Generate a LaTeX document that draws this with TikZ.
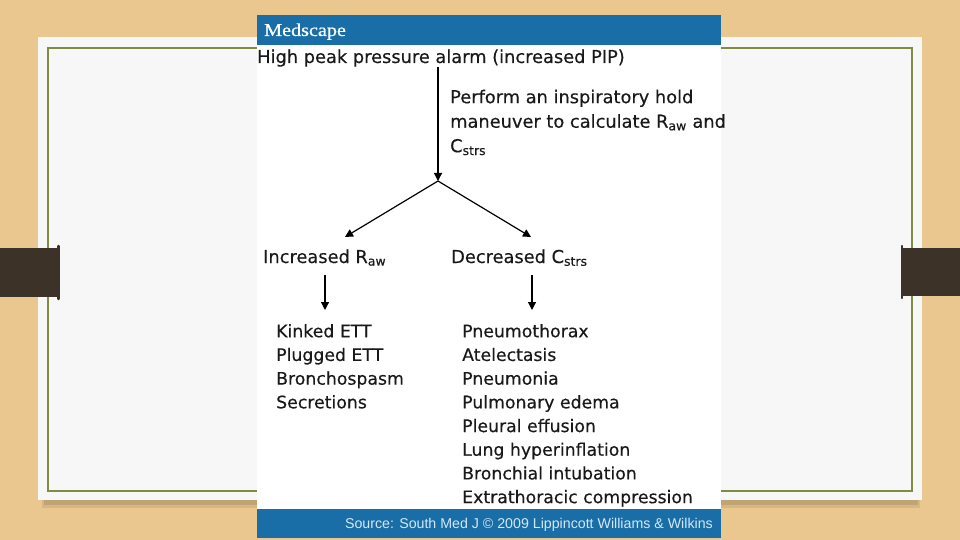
\documentclass[tikz,border=0pt]{standalone}
\usepackage{fontspec}
\setmainfont{DejaVu Sans}[FakeBold=0.3]
\newfontfamily\logofont{Liberation Serif}[FakeBold=0.6]
\newfontfamily\srcfont{Liberation Sans}
\usetikzlibrary{arrows.meta}
\definecolor{slidetan}{RGB}{233,199,143}
\definecolor{slideolive}{RGB}{128,140,66}
\definecolor{tabbrown}{RGB}{60,50,40}
\definecolor{medblue}{RGB}{26,110,168}
\definecolor{srctext}{RGB}{210,232,246}
\tikzset{
  txt/.style = {inner sep=0pt, text=black!90, font=\fontsize{17.8}{24.5}\selectfont},
  causes/.style = {inner sep=0pt, text=black!90, align=left, font=\fontsize{17.3}{23.7}\selectfont},
  arr/.style = {line width=1.2pt, -{Triangle[length=8pt,width=8pt]}}
}

\begin{document}
\begin{tikzpicture}[x=1pt,y=-1pt]
\useasboundingbox (0,0) rectangle (960,540);
% slide
\fill[slidetan] (0,0) rectangle (960,540);
\fill[black, opacity=0.08] (42,494) rectangle (920,508);
\fill[black, opacity=0.10] (44,494) rectangle (918,505);
\fill[white!97!black] (38,37) rectangle (922,500);
\draw[slideolive, line width=2pt] (48,48) rectangle (912,491);
\fill[tabbrown] (0,248) rectangle (59,297);
\fill[tabbrown] (902,248) rectangle (960,296);
\draw[tabbrown, line width=2.5pt, line cap=round] (58.5,246) -- (58.5,299);
\draw[tabbrown, line width=2.5pt, line cap=round] (902,246) -- (902,298);

% figure
\fill[white] (257,45) rectangle (721,509);
\fill[medblue] (257,15) rectangle (721,45);
\fill[medblue] (257,509) rectangle (721,538);
\node[anchor=base west, inner sep=0pt, text=white] (logo) at (264,36)
  {\logofont\fontsize{18}{18}\selectfont\scalebox{1.12}[1]{Medscape}};
\node[txt, anchor=base west] (alarm) at (257,63) {High peak pressure alarm (increased PIP)};
\node[txt, align=left, anchor=north west] (hold) at (450,89.5)
  {Perform an inspiratory hold\\maneuver to calculate R\textsubscript{aw} and\\C\textsubscript{strs}};

\coordinate (fork) at (438,181);
\coordinate (rawend) at (345,237);
\coordinate (cstrsend) at (531,237);
\draw[arr] (alarm.south -| fork) -- (fork);
\draw[arr] (fork) -- (rawend);
\draw[arr] (fork) -- (cstrsend);

\node[txt, anchor=base west] (raw) at (263,263) {Increased R\textsubscript{aw}};
\node[txt, anchor=base west] (cstrs) at (451,263) {Decreased C\textsubscript{strs}};

\coordinate (rawtop) at (325,275);
\coordinate (rawtip) at (325,310);
\coordinate (cstrstop) at (532,275);
\coordinate (cstrstip) at (532,310);
\draw[arr] (rawtop) -- (rawtip);
\draw[arr] (cstrstop) -- (cstrstip);

\node[causes, anchor=north west] (rawlist) at (276,323.9)
  {Kinked ETT\\Plugged ETT\\Bronchospasm\\Secretions};
\node[causes, anchor=north west] (cstrslist) at (462,323.9)
  {Pneumothorax\\Atelectasis\\Pneumonia\\Pulmonary edema\\Pleural effusion\\Lung hyperinflation\\Bronchial intubation\\Extrathoracic compression};

\node[anchor=base east, inner sep=0pt, text=srctext, font=\srcfont\fontsize{14.2}{14.2}\selectfont] (source) at (713,528)
  {Source: South Med J © 2009 Lippincott Williams \& Wilkins};
\end{tikzpicture}
\end{document}
